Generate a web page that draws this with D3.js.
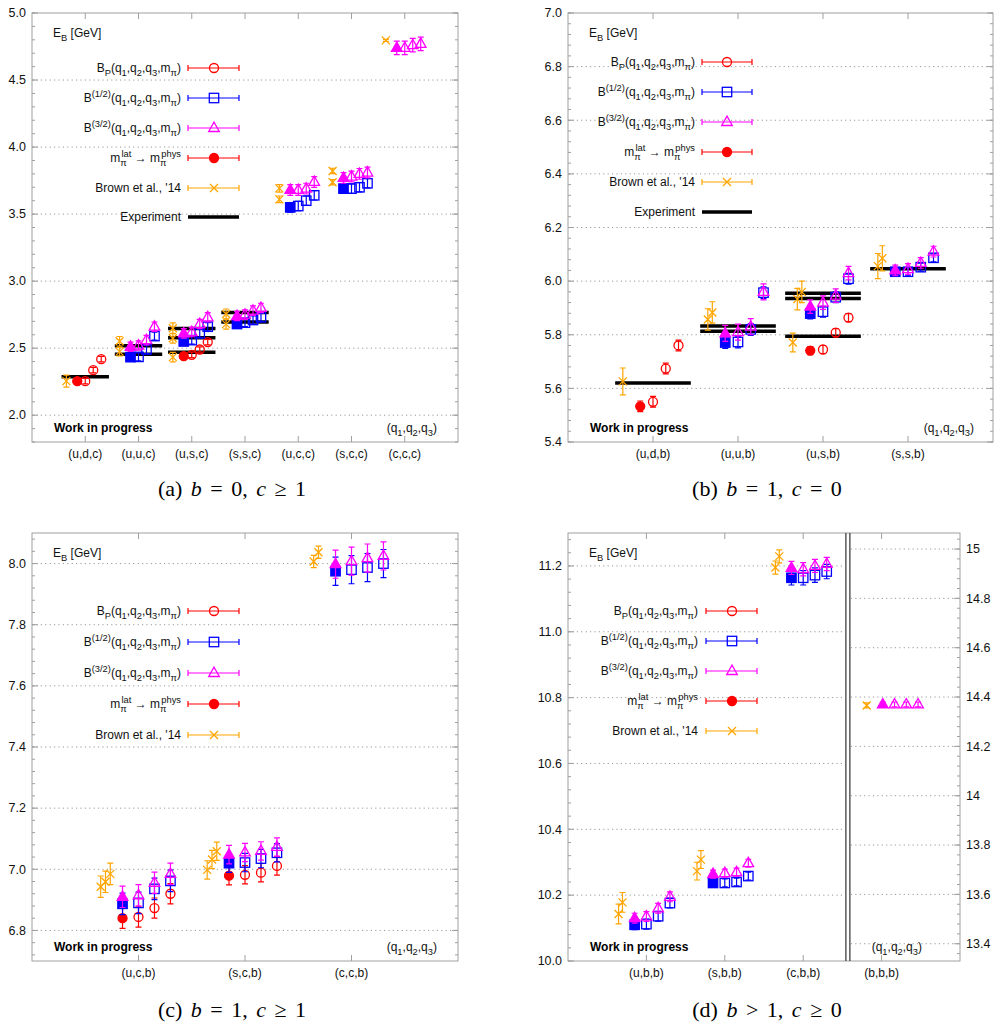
<!DOCTYPE html>
<html>
<head>
<meta charset="utf-8">
<script src="https://cdn.jsdelivr.net/npm/d3@7"></script>
<style>
  body { margin: 0; background: #fff; }
  text { font-family: "Liberation Sans", Arial, sans-serif; }
</style>
</head>
<body>
<script>
// ---- data (GeV) ----
// (a) b = 0, c >= 1
const catsA = ["(u,d,c)", "(u,u,c)", "(u,s,c)", "(s,s,c)", "(u,c,c)", "(s,c,c)", "(c,c,c)"];
const expA = [["(u,d,c)", 2.286], ["(u,u,c)", 2.454], ["(u,u,c)", 2.518], ["(u,s,c)", 2.469],
  ["(u,s,c)", 2.578], ["(u,s,c)", 2.646], ["(s,s,c)", 2.695], ["(s,s,c)", 2.766]];
const brownA = [["(u,d,c)", 2.254, 0.045], ["(u,u,c)", 2.474, 0.031], ["(u,u,c)", 2.551, 0.036],
  ["(u,s,c)", 2.433, 0.035], ["(u,s,c)", 2.574, 0.036], ["(u,s,c)", 2.648, 0.04],
  ["(s,s,c)", 2.679, 0.037], ["(s,s,c)", 2.755, 0.037], ["(u,c,c)", 3.610, 0.025],
  ["(u,c,c)", 3.692, 0.028], ["(s,c,c)", 3.738, 0.02], ["(s,c,c)", 3.822, 0.02], ["(c,c,c)", 4.796, 0.008]];
// lattice rows: [category, m_pi -> phys, three pion masses..., error]
const bpA = [["(u,d,c)", 2.254, 2.254, 2.336, 2.418, 0.02], ["(u,s,c)", 2.44, 2.45, 2.49, 2.545, 0.02]];
const b12A = [["(u,u,c)", 2.433, 2.435, 2.49, 2.59, 0.03], ["(u,s,c)", 2.55, 2.56, 2.61, 2.66, 0.03],
  ["(s,s,c)", 2.68, 2.69, 2.71, 2.73, 0.03], ["(u,c,c)", 3.55, 3.56, 3.60, 3.64, 0.035],
  ["(s,c,c)", 3.69, 3.69, 3.70, 3.73, 0.035]];
const b32A = [["(u,u,c)", 2.51, 2.52, 2.56, 2.66, 0.035], ["(u,s,c)", 2.61, 2.62, 2.68, 2.73, 0.035],
  ["(s,s,c)", 2.74, 2.75, 2.78, 2.80, 0.035], ["(u,c,c)", 3.68, 3.68, 3.69, 3.74, 0.04],
  ["(s,c,c)", 3.77, 3.78, 3.80, 3.81, 0.04], ["(c,c,c)", 4.74, 4.74, 4.76, 4.77, 0.05]];

// (b) b = 1, c = 0
const catsB = ["(u,d,b)", "(u,u,b)", "(u,s,b)", "(s,s,b)"];
const expB = [["(u,d,b)", 5.6196], ["(u,u,b)", 5.813], ["(u,u,b)", 5.833], ["(u,s,b)", 5.7945],
  ["(u,s,b)", 5.935], ["(u,s,b)", 5.955], ["(s,s,b)", 6.046]];
const brownB = [["(u,d,b)", 5.626, 0.05], ["(u,u,b)", 5.857, 0.04], ["(u,u,b)", 5.883, 0.04],
  ["(u,s,b)", 5.771, 0.035], ["(u,s,b)", 5.933, 0.04], ["(u,s,b)", 5.960, 0.04],
  ["(s,s,b)", 6.056, 0.047], ["(s,s,b)", 6.085, 0.047]];
const bpB = [["(u,d,b)", 5.533, 5.55, 5.674, 5.76, 0.02], ["(u,s,b)", 5.741, 5.745, 5.808, 5.864, 0.015]];
const b12B = [["(u,u,b)", 5.771, 5.773, 5.82, 5.957, 0.022], ["(u,s,b)", 5.879, 5.886, 5.94, 6.009, 0.02],
  ["(s,s,b)", 6.035, 6.035, 6.052, 6.087, 0.015]];
const b32B = [["(u,u,b)", 5.805, 5.81, 5.83, 5.96, 0.03], ["(u,s,b)", 5.905, 5.92, 5.946, 6.03, 0.025],
  ["(s,s,b)", 6.04, 6.045, 6.068, 6.11, 0.02]];

// (c) b = 1, c >= 1
const catsC = ["(u,c,b)", "(s,c,b)", "(c,c,b)"];
const brownC = [["(u,c,b)", 6.943, 0.035], ["(u,c,b)", 6.959, 0.035], ["(u,c,b)", 6.985, 0.035],
  ["(s,c,b)", 6.998, 0.03], ["(s,c,b)", 7.032, 0.03], ["(s,c,b)", 7.059, 0.03],
  ["(c,c,b)", 8.007, 0.02], ["(c,c,b)", 8.037, 0.02]];
const bpC = [["(u,c,b)", 6.84, 6.844, 6.873, 6.92, 0.033], ["(s,c,b)", 6.979, 6.982, 6.989, 7.011, 0.03]];
const b12C = [["(u,c,b)", 6.887, 6.89, 6.936, 6.962, 0.035], ["(s,c,b)", 7.02, 7.022, 7.035, 7.054, 0.03],
  ["(c,c,b)", 7.975, 7.98, 7.987, 8.0, 0.046]];
const b32C = [["(u,c,b)", 6.91, 6.915, 6.956, 6.985, 0.035], ["(s,c,b)", 7.048, 7.055, 7.06, 7.073, 0.03],
  ["(c,c,b)", 7.998, 8.008, 8.018, 8.025, 0.046]];

// (d) b > 1, c >= 0  -- (b,b,b) read on the right axis
const catsD = ["(u,b,b)", "(s,b,b)", "(c,b,b)", "(b,b,b)"];
const brownD = [["(u,b,b)", 10.143, 0.03], ["(u,b,b)", 10.178, 0.03], ["(s,b,b)", 10.273, 0.027],
  ["(s,b,b)", 10.308, 0.027], ["(c,b,b)", 11.195, 0.02], ["(c,b,b)", 11.229, 0.02], ["(b,b,b)", 14.366, 0.01]];
const b12D = [["(u,b,b)", 10.11, 10.112, 10.136, 10.176, 0.015], ["(s,b,b)", 10.237, 10.237, 10.24, 10.258, 0.012],
  ["(c,b,b)", 11.164, 11.164, 11.172, 11.183, 0.022]];
const b32D = [["(u,b,b)", 10.13, 10.135, 10.16, 10.195, 0.015], ["(s,b,b)", 10.264, 10.267, 10.27, 10.297, 0.012],
  ["(c,b,b)", 11.194, 11.19, 11.2, 11.206, 0.02], ["(b,b,b)", 14.37, 14.37, 14.37, 14.37, 0.01]];

// ---- drawing ----
const svg = d3.select("body").append("svg").attr("width", 995).attr("height", 1030);

const COL = { bp: "#ff0000", b12: "#0000ff", b32: "#ff00ff", brown: "#ffa500", exp: "#000000" };
const SHAPE = { bp: "circle", b12: "square", b32: "triangle" };
const FRAME = "#a0a0a0";
const BROWN_X = -0.355, FILLED_X = -0.15, OPEN_X = [0, 0.15, 0.3];

function marker(g, shape, cx, cy, color, filled) {
  const fill = filled ? color : "none";
  if (shape === "circle") {
    g.append("circle").attr("cx", cx).attr("cy", cy).attr("r", 4.5)
      .attr("fill", fill).attr("stroke", color).attr("stroke-width", 1.3);
  } else if (shape === "square") {
    g.append("rect").attr("x", cx - 4.7).attr("y", cy - 4.7).attr("width", 9.4).attr("height", 9.4)
      .attr("fill", fill).attr("stroke", color).attr("stroke-width", 1.3);
  } else if (shape === "triangle") {
    g.append("path").attr("d", `M${cx},${cy - 5.9}L${cx - 5.3},${cy + 3.5}L${cx + 5.3},${cy + 3.5}Z`)
      .attr("fill", fill).attr("stroke", color).attr("stroke-width", 1.3);
  } else if (shape === "cross") {
    g.append("path").attr("d", `M${cx - 4},${cy - 4}L${cx + 4},${cy + 4}M${cx - 4},${cy + 4}L${cx + 4},${cy - 4}`)
      .attr("stroke", color).attr("stroke-width", 1.3);
  }
}

function errBar(g, xx, ya, yb, color) {
  g.append("path")
    .attr("d", `M${xx},${ya}L${xx},${yb}M${xx - 3},${ya}L${xx + 3},${ya}M${xx - 3},${yb}L${xx + 3},${yb}`)
    .attr("stroke", color).attr("stroke-width", 1.2).attr("fill", "none");
}

function steps(dom, step) {
  const out = [];
  for (let n = Math.ceil(dom[0] / step - 1e-6); n <= Math.floor(dom[1] / step + 1e-6); n++) out.push(+(n * step).toFixed(4));
  return out;
}

// rich text with sub / superscripts
const LEG = {
  bp: [["B"], ["P", "sub"], ["(q"], ["1", "sub"], [",q"], ["2", "sub"], [",q"], ["3", "sub"], [",m"], ["π", "sub"], [")"]],
  b12: [["B"], ["(1/2)", "sup"], ["(q"], ["1", "sub"], [",q"], ["2", "sub"], [",q"], ["3", "sub"], [",m"], ["π", "sub"], [")"]],
  b32: [["B"], ["(3/2)", "sup"], ["(q"], ["1", "sub"], [",q"], ["2", "sub"], [",q"], ["3", "sub"], [",m"], ["π", "sub"], [")"]],
  phys: [["m"], ["π", "sub"], ["lat", "stack"], [" → m"], ["π", "sub"], ["phys", "stack"]],
  brown: [["Brown et al., '14"]],
  exp: [["Experiment"]]
};
const QLAB = [["(q"], ["1", "sub"], [",q"], ["2", "sub"], [",q"], ["3", "sub"], [")"]];
const EBLAB = [["E"], ["B", "sub"], [" [GeV]"]];

function richText(g, parts, x, y, anchor, size) {
  const t = g.append("text").attr("x", x).attr("y", y).attr("text-anchor", anchor)
    .attr("font-size", size).attr("fill", "#111");
  let cur = 0;
  parts.forEach(([s, kind]) => {
    const target = kind === "sub" ? 3.5 : (kind === "sup" || kind === "stack") ? -5 : 0;
    const sp = t.append("tspan").attr("dy", target - cur).text(s)
      .attr("font-size", kind ? size * 0.78 : size);
    if (kind === "stack") sp.attr("dx", -5.2);
    cur = target;
  });
  return t;
}

function drawPanel(p) {
  const g = svg.append("g");
  const n = p.cats.length;
  const x = d3.scaleLinear().domain([0, n + 1]).range([p.left, p.right]);
  const yL = d3.scaleLinear().domain(p.yDomain).range([p.bottom, p.top]);
  const yR = p.yDomainR ? d3.scaleLinear().domain(p.yDomainR).range([p.bottom, p.top]) : null;
  const yOf = c => (p.rightCats && p.rightCats.includes(c)) ? yR : yL;
  const shift = c => (p.catShift && p.catShift[c]) || 0;
  const xt = c => x(p.cats.indexOf(c) + 1);
  const xc = (c, off) => x(p.cats.indexOf(c) + 1 + off + shift(c));
  const xb = p.breakAt != null ? x(p.breakAt) : null;

  // grid
  const grid = (scale, step, x1, x2) => {
    g.append("g").selectAll("line")
      .data(steps(scale.domain(), step).filter(v => scale(v) > p.top + 1 && scale(v) < p.bottom - 1))
      .join("line")
      .attr("x1", x1).attr("x2", x2).attr("y1", d => scale(d)).attr("y2", d => scale(d))
      .attr("stroke", "#999").attr("stroke-width", 1).attr("stroke-dasharray", "1.2,3.2");
  };
  if (xb != null) {
    grid(yL, p.major, p.left, xb - 3);
    grid(yR, p.majorR, xb + 3, p.right);
  } else {
    grid(yL, p.major, p.left, p.right);
  }

  // frame
  g.append("rect").attr("x", p.left).attr("y", p.top).attr("width", p.right - p.left)
    .attr("height", p.bottom - p.top).attr("fill", "none").attr("stroke", FRAME).attr("stroke-width", 1);

  // y ticks
  const yTicks = (scale, major, minor, xEdge, dir) => {
    const tg = g.append("g");
    tg.selectAll(".mi").data(steps(scale.domain(), minor)).join("line")
      .attr("x1", xEdge).attr("x2", xEdge + dir * 3).attr("y1", d => scale(d)).attr("y2", d => scale(d))
      .attr("stroke", FRAME);
    tg.selectAll(".ma").data(steps(scale.domain(), major)).join("line")
      .attr("x1", xEdge).attr("x2", xEdge + dir * 6).attr("y1", d => scale(d)).attr("y2", d => scale(d))
      .attr("stroke", FRAME);
  };
  yTicks(yL, p.major, p.minor, p.left, 1);
  if (yR) yTicks(yR, p.majorR, p.minorR, p.right, -1);
  else yTicks(yL, p.major, p.minor, p.right, -1);

  g.append("g").selectAll("text").data(steps(yL.domain(), p.major)).join("text")
    .attr("x", p.left - 6).attr("y", d => yL(d) + 4.3).attr("text-anchor", "end")
    .attr("font-size", 12.5).attr("fill", "#111").text(d => d.toFixed(1));
  if (yR) {
    g.append("g").selectAll("text").data(steps(yR.domain(), p.majorR)).join("text")
      .attr("x", p.right + 6).attr("y", d => yR(d) + 4.3).attr("text-anchor", "start")
      .attr("font-size", 12.5).attr("fill", "#111").text(d => String(+d.toFixed(1)));
  }

  // x ticks + labels
  g.append("g").selectAll("path").data(p.cats).join("path")
    .attr("d", c => `M${xt(c)},${p.bottom}v-6M${xt(c)},${p.top}v6`)
    .attr("stroke", FRAME);
  g.append("g").selectAll("text").data(p.cats).join("text")
    .attr("x", c => xt(c)).attr("y", p.bottom + 16).attr("text-anchor", "middle")
    .attr("font-size", 12).attr("fill", "#111").text(c => c);

  // axis break
  if (xb != null) {
    g.append("path").attr("d", `M${xb - 2},${p.top}V${p.bottom}M${xb + 2},${p.top}V${p.bottom}`)
      .attr("stroke", "#333").attr("stroke-width", 1.2);
  }

  // experiment
  const dg = g.append("g");
  (p.exp || []).forEach(([c, v]) => {
    dg.append("line").attr("x1", xc(c, -0.445)).attr("x2", xc(c, 0.445))
      .attr("y1", yOf(c)(v)).attr("y2", yOf(c)(v)).attr("stroke", COL.exp).attr("stroke-width", 3.5);
  });
  // Brown et al.
  const seen = {};
  p.brown.forEach(([c, v, e]) => {
    const k = seen[c] = (seen[c] == null ? 0 : seen[c] + 1);
    const xx = xc(c, BROWN_X + k * p.brownStep);
    const y = yOf(c);
    errBar(dg, xx, y(v - e), y(v + e), COL.brown);
    marker(dg, "cross", xx, y(v), COL.brown, false);
  });
  // lattice
  [["bp", p.bp], ["b12", p.b12], ["b32", p.b32]].forEach(([key, rows]) => {
    (rows || []).forEach(row => {
      const [c, phys, m1, m2, m3, e] = row;
      const y = yOf(c);
      [m1, m2, m3].forEach((v, j) => {
        const xx = xc(c, OPEN_X[j]);
        errBar(dg, xx, y(v - e), y(v + e), COL[key]);
        marker(dg, SHAPE[key], xx, y(v), COL[key], false);
      });
      const xx = xc(c, FILLED_X);
      errBar(dg, xx, y(phys - e), y(phys + e), COL[key]);
      marker(dg, SHAPE[key], xx, y(phys), COL[key], true);
    });
  });

  // legend
  const L = p.legend;
  L.keys.forEach((k, i) => {
    const yy = L.rows[i];
    richText(g, LEG[k], L.textEnd, yy + 4.3, "end", 12);
    if (k === "exp") {
      g.append("line").attr("x1", L.x1).attr("x2", L.x2).attr("y1", yy).attr("y2", yy)
        .attr("stroke", "#000").attr("stroke-width", 3.5);
      return;
    }
    const color = k === "phys" ? COL.bp : COL[k];
    g.append("path").attr("d", `M${L.x1},${yy}H${L.x2}M${L.x1},${yy - 3}v6M${L.x2},${yy - 3}v6`)
      .attr("stroke", color).attr("stroke-width", 1.2);
    const shape = k === "phys" ? "circle" : k === "brown" ? "cross" : SHAPE[k];
    marker(g, shape, L.xm, yy, color, k === "phys");
  });

  // annotations
  richText(g, EBLAB, p.left + 21, p.top + 24, "start", 12);
  g.append("text").attr("x", p.left + 22).attr("y", p.bottom - 10).attr("font-size", 12)
    .attr("font-weight", "bold").attr("fill", "#000").text("Work in progress");
  richText(g, QLAB, p.qEnd, p.bottom - 10, "end", 12);

  // caption
  const cap = svg.append("text").attr("x", p.capX).attr("y", p.capY).attr("text-anchor", "middle")
    .attr("font-size", 22).attr("word-spacing", 3)
    .style("font-family", "'Liberation Serif', 'Times New Roman', serif");
  p.caption.forEach(([s, it]) => cap.append("tspan").attr("font-style", it ? "italic" : "normal").text(s));
}

drawPanel({
  cats: catsA, left: 32, right: 458, top: 13, bottom: 442,
  yDomain: [1.8, 5.0], major: 0.5, minor: 0.1,
  exp: expA, brown: brownA, brownStep: 0, bp: bpA, b12: b12A, b32: b32A,
  legend: { keys: ["bp", "b12", "b32", "phys", "brown", "exp"], rows: [68, 98, 128, 158, 188, 217],
    textEnd: 181, x1: 188, x2: 239, xm: 214 },
  qEnd: 437, capX: 232, capY: 496,
  caption: [["(a) "], ["b", 1], [" = 0, "], ["c", 1], [" ≥ 1"]]
});

drawPanel({
  cats: catsB, left: 568, right: 993, top: 13, bottom: 442,
  yDomain: [5.4, 7.0], major: 0.2, minor: 0.04,
  exp: expB, brown: brownB, brownStep: 0.053, bp: bpB, b12: b12B, b32: b32B,
  legend: { keys: ["bp", "b12", "b32", "phys", "brown", "exp"], rows: [62, 92, 122, 152, 182, 212],
    textEnd: 695, x1: 702, x2: 752, xm: 727 },
  qEnd: 974, capX: 767, capY: 496,
  caption: [["(b) "], ["b", 1], [" = 1, "], ["c", 1], [" = 0"]]
});

drawPanel({
  cats: catsC, left: 32, right: 458, top: 533, bottom: 961,
  yDomain: [6.7, 8.1], major: 0.2, minor: 0.04,
  brown: brownC, brownStep: 0.045, bp: bpC, b12: b12C, b32: b32C,
  legend: { keys: ["bp", "b12", "b32", "phys", "brown"], rows: [611, 642, 673, 704, 735],
    textEnd: 181, x1: 188, x2: 239, xm: 214 },
  qEnd: 437, capX: 232, capY: 1017,
  caption: [["(c) "], ["b", 1], [" = 1, "], ["c", 1], [" ≥ 1"]]
});

drawPanel({
  cats: catsD, left: 568, right: 960, top: 533, bottom: 961,
  yDomain: [10.0, 11.3], major: 0.2, minor: 0.04,
  yDomainR: [13.33, 15.065], majorR: 0.2, minorR: 0.04, rightCats: ["(b,b,b)"], breakAt: 3.57,
  catShift: { "(b,b,b)": 0.165 },
  brown: brownD, brownStep: 0.05, b12: b12D, b32: b32D,
  legend: { keys: ["bp", "b12", "b32", "phys", "brown"], rows: [611, 641, 671, 701, 731],
    textEnd: 698, x1: 706, x2: 757, xm: 732 },
  qEnd: 922, capX: 767, capY: 1017,
  caption: [["(d) "], ["b", 1], [" > 1, "], ["c", 1], [" ≥ 0"]]
});
</script>
</body>
</html>
